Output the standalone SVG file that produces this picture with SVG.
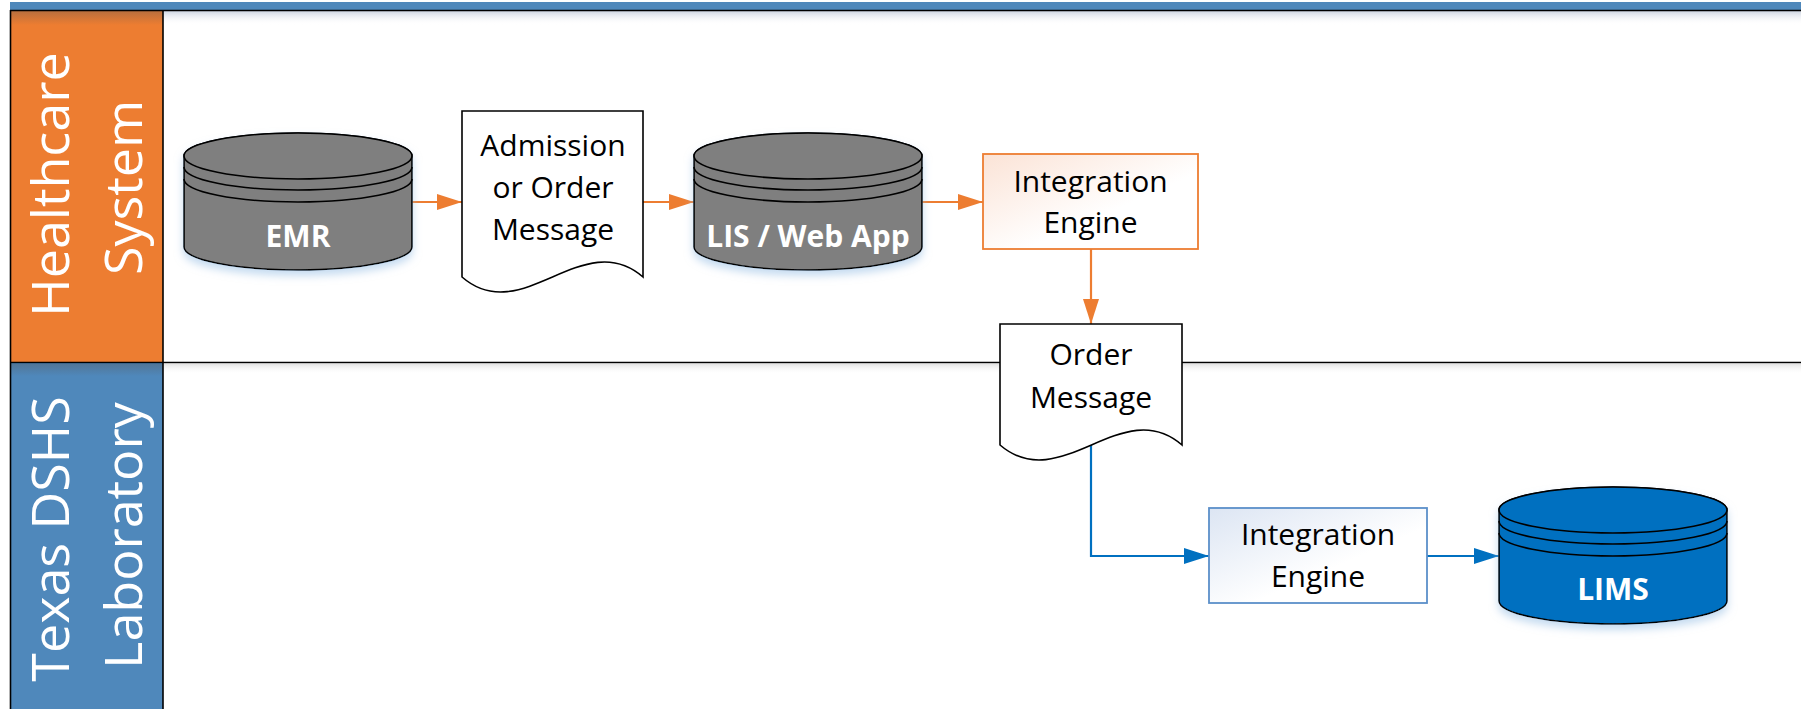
<svg xmlns="http://www.w3.org/2000/svg" width="1801" height="709" viewBox="0 0 1801 709">
<style>
.hdr{font-family:"Open Sans","Liberation Sans",sans-serif;font-size:52px;fill:#fff;text-anchor:middle}
.lbl{font-family:"Open Sans","Liberation Sans",sans-serif;font-size:30px;fill:#000;text-anchor:middle}
.cyl-t{font-family:"Open Sans","Liberation Sans",sans-serif;font-size:30px;font-weight:bold;fill:#fff;text-anchor:middle}
.cyl{stroke:#000;stroke-width:1.6}
.band{fill:none;stroke:#000;stroke-width:1.6}
.doc{fill:#fff;stroke:#000;stroke-width:1.6}
.co{fill:none;stroke:#ED7D31;stroke-width:2.2}
.cb{fill:none;stroke:#0070C0;stroke-width:2.2}
.lane{stroke:#000;stroke-width:1.6}
</style>
<defs>
<marker id="ao" markerUnits="userSpaceOnUse" markerWidth="25" markerHeight="16" refX="25" refY="8" orient="auto"><path d="M0,0 L25,8 L0,16 Z" fill="#ED7D31"/></marker>
<marker id="ab" markerUnits="userSpaceOnUse" markerWidth="25" markerHeight="16" refX="25" refY="8" orient="auto"><path d="M0,0 L25,8 L0,16 Z" fill="#0070C0"/></marker>
<linearGradient id="shadow" x1="0" y1="0" x2="0" y2="1"><stop offset="0" stop-color="#b9c4d6" stop-opacity="0.7"/><stop offset="1" stop-color="#ffffff" stop-opacity="0"/></linearGradient>
<linearGradient id="shadowG" x1="0" y1="0" x2="0" y2="1"><stop offset="0" stop-color="#d0d0d0" stop-opacity="0.6"/><stop offset="1" stop-color="#ffffff" stop-opacity="0"/></linearGradient>
<linearGradient id="hdrsh" x1="0" y1="0" x2="0" y2="1"><stop offset="0" stop-color="#555" stop-opacity="0.35"/><stop offset="1" stop-color="#555" stop-opacity="0"/></linearGradient>
<linearGradient id="gOr" x1="0" y1="0" x2="1" y2="1"><stop offset="0" stop-color="#fbe3d6"/><stop offset="0.6" stop-color="#ffffff"/></linearGradient>
<linearGradient id="gBl" x1="0" y1="0" x2="1" y2="1"><stop offset="0" stop-color="#dce5f3"/><stop offset="0.6" stop-color="#ffffff"/></linearGradient>
<filter id="glow" x="-10%" y="-10%" width="120%" height="130%"><feDropShadow dx="0" dy="5" stdDeviation="4" flood-color="#9dc3e6" flood-opacity="0.6"/></filter>
</defs>
<g id="pool">
<rect x="10" y="2" width="1791" height="8" fill="#4F88BB"/>
<rect x="163" y="11" width="1638" height="14" fill="url(#shadow)"/>
<rect x="163" y="364" width="1638" height="10" fill="url(#shadowG)"/>
<rect x="10" y="11" width="153" height="351" fill="#ED7D31"/>
<rect x="10" y="11" width="153" height="14" fill="url(#hdrsh)"/>
<rect x="10" y="363" width="153" height="350" fill="#4F88BB"/>
<rect x="10" y="364" width="153" height="12" fill="url(#hdrsh)"/>
<line class="lane" x1="10" y1="10.5" x2="1801" y2="10.5"/>
<line class="lane" x1="10" y1="362.5" x2="1801" y2="362.5"/>
<line class="lane" x1="10.5" y1="10" x2="10.5" y2="709"/>
<line class="lane" x1="163" y1="10" x2="163" y2="709"/>
</g>
<g id="lane-healthcare">
<text class="hdr" transform="translate(69,184.5) rotate(-90)">Healthcare</text>
<text class="hdr" transform="translate(142,187.5) rotate(-90)">System</text>
</g>
<g id="lane-texas">
<text class="hdr" transform="translate(69,539) rotate(-90)">Texas DSHS</text>
<text class="hdr" transform="translate(142,535.5) rotate(-90)">Laboratory</text>
</g>
<g id="connectors">
<path class="co" d="M412,202 H462" marker-end="url(#ao)"/>
<path class="co" d="M643,202 H694" marker-end="url(#ao)"/>
<path class="co" d="M922,202 H983" marker-end="url(#ao)"/>
<path class="co" d="M1091,249 V324" marker-end="url(#ao)"/>
<path class="cb" d="M1091,445 V556 H1209" marker-end="url(#ab)"/>
<path class="cb" d="M1427,556 H1499" marker-end="url(#ab)"/>
</g>
<g id="emr" transform="translate(184,133)">
<path class="cyl" fill="#7F7F7F" filter="url(#glow)" d="M0,23 A114,23 0 0 1 228,23 V114 A114,23 0 0 1 0,114 Z"/>
<ellipse class="cyl" fill="#7F7F7F" cx="114" cy="23" rx="114" ry="23"/>
<path class="band" d="M0,34 A114,23 0 0 0 228,34 M0,46 A114,23 0 0 0 228,46"/>
<text class="cyl-t" x="114" y="114">EMR</text>
</g>
<g id="admission">
<path class="doc" d="M462,111 H643 V277 C583,225 522,329 462,277 Z"/>
<text class="lbl" x="553" y="156">Admission</text>
<text class="lbl" x="553" y="198">or Order</text>
<text class="lbl" x="553" y="240">Message</text>
</g>
<g id="lis" transform="translate(694,133)">
<path class="cyl" fill="#7F7F7F" filter="url(#glow)" d="M0,23 A114,23 0 0 1 228,23 V114 A114,23 0 0 1 0,114 Z"/>
<ellipse class="cyl" fill="#7F7F7F" cx="114" cy="23" rx="114" ry="23"/>
<path class="band" d="M0,34 A114,23 0 0 0 228,34 M0,46 A114,23 0 0 0 228,46"/>
<text class="cyl-t" x="114" y="114">LIS / Web App</text>
</g>
<g id="ie-healthcare">
<rect x="983" y="154" width="215" height="95" fill="url(#gOr)" stroke="#ED7D31" stroke-width="1.8"/>
<text class="lbl" x="1090.5" y="192">Integration</text>
<text class="lbl" x="1090.5" y="233">Engine</text>
</g>
<g id="order">
<path class="doc" d="M1000,324 H1182 V445 C1122,393 1061,497 1000,445 Z"/>
<text class="lbl" x="1091" y="365">Order</text>
<text class="lbl" x="1091" y="408">Message</text>
</g>
<g id="ie-lab">
<rect x="1209" y="508" width="218" height="95" fill="url(#gBl)" stroke="#5B8FC9" stroke-width="1.8"/>
<text class="lbl" x="1318" y="545">Integration</text>
<text class="lbl" x="1318" y="587">Engine</text>
</g>
<g id="lims" transform="translate(1499,487)">
<path class="cyl" fill="#0070C0" filter="url(#glow)" d="M0,23 A114,23 0 0 1 228,23 V114 A114,23 0 0 1 0,114 Z"/>
<ellipse class="cyl" fill="#0070C0" cx="114" cy="23" rx="114" ry="23"/>
<path class="band" d="M0,34 A114,23 0 0 0 228,34 M0,46 A114,23 0 0 0 228,46"/>
<text class="cyl-t" x="114" y="113">LIMS</text>
</g>
</svg>
